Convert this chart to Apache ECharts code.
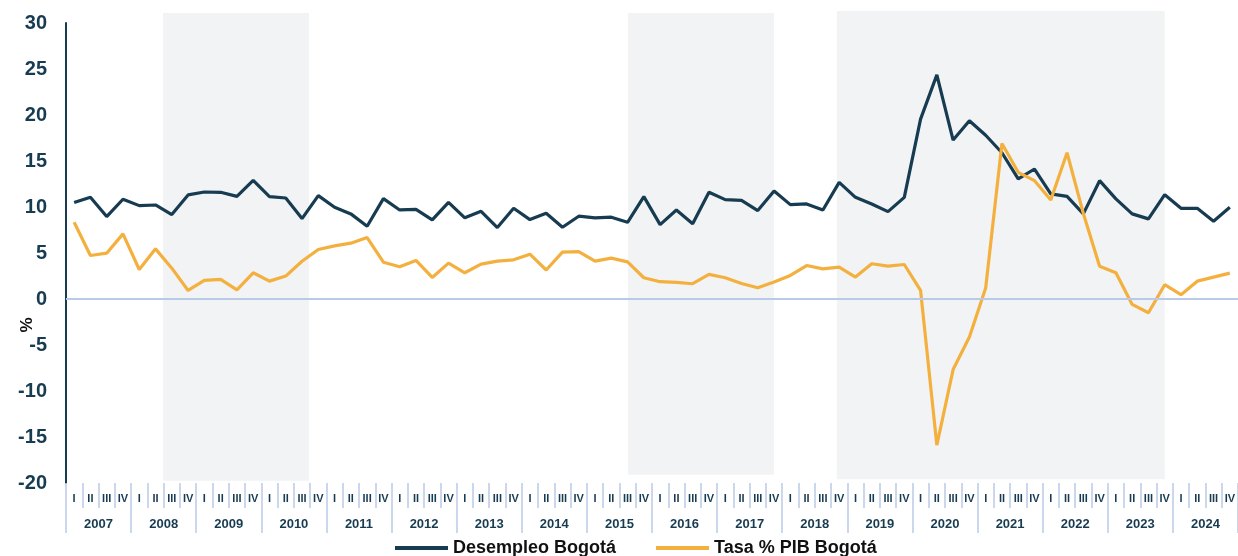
<!DOCTYPE html>
<html>
<head>
<meta charset="utf-8">
<script src="https://cdn.jsdelivr.net/npm/echarts@6/dist/echarts.min.js"></script>
<style>
html,body{margin:0;padding:0;background:#fff;}
#chart{width:1238px;height:556px;}
</style>
</head>
<body>
<div id="chart"></div>
<script>
const years = ['2007','2008','2009','2010','2011','2012','2013','2014','2015','2016','2017','2018','2019','2020','2021','2022','2023','2024'];
const quarterNames = ['I','II','III','IV'];
const yTicks = [-20,-15,-10,-5,0,5,10,15,20,25,30];

const desempleo = [
  10.48, 11.05, 8.96, 10.84,
  10.15, 10.22, 9.18, 11.31,
  11.63, 11.6, 11.16, 12.9,
  11.13, 10.98, 8.74, 11.24,
  9.97, 9.25, 7.91, 10.91,
  9.68, 9.75, 8.6, 10.51,
  8.82, 9.53, 7.77, 9.86,
  8.63, 9.32, 7.8, 9.0,
  8.82, 8.89, 8.34, 11.13,
  8.09, 9.68, 8.17, 11.6,
  10.8, 10.73, 9.61, 11.74,
  10.26, 10.33, 9.68, 12.68,
  11.05, 10.33, 9.5, 11.05,
  19.55, 24.36, 17.28, 19.37,
  17.8, 15.9, 13.05, 14.13,
  11.42, 11.15, 9.25, 12.86,
  10.88, 9.25, 8.71, 11.34,
  9.86, 9.86, 8.45, 9.97
];

const pib = [
  8.34, 4.73, 4.98, 7.08,
  3.21, 5.45, 3.35, 0.93,
  2.02, 2.13, 1.0, 2.85,
  1.94, 2.49, 4.1, 5.38,
  5.78, 6.07, 6.68, 4.0,
  3.5, 4.19, 2.34, 3.9,
  2.85, 3.79, 4.11, 4.26,
  4.87, 3.15, 5.09, 5.16,
  4.11, 4.44, 4.04, 2.31,
  1.88, 1.8, 1.66, 2.67,
  2.31, 1.69, 1.22, 1.84,
  2.56, 3.64, 3.28, 3.46,
  2.38, 3.83, 3.57, 3.75,
  0.93, -15.88, -7.67, -4.13,
  1.2, 16.9, 13.77, 12.86,
  10.77, 15.9, 9.3, 3.57,
  2.85, -0.59, -1.49, 1.55,
  0.47, 1.94, 2.38, 2.81
];

// shaded periods: [start quarter index, end quarter index, top value, bottom value]
const shadeBands = [
  [5.96, 14.93, 31.1, -19.75],
  [34.52, 43.49, 31.1, -19.1],
  [47.36, 67.5, 31.3, -19.6]
];

const quarters = [];
years.forEach(y => quarterNames.forEach(q => quarters.push(q)));

const FONT = 'Liberation Sans, Arial, sans-serif';
const NAVY = '#173b50';
const ORANGE = '#f4b03e';
const TICK = '#b9cae8';

const chart = echarts.init(document.getElementById('chart'), null, {renderer:'canvas'});
chart.setOption({
  animation: false,
  textStyle: {fontFamily: FONT},
  grid: {left: 66, top: 23, right: -4, height: 460, containLabel: false},
  legend: {
    left: 390, top: 534,
    itemWidth: 53, itemHeight: 4, itemGap: 40,
    icon: 'rect',
    textStyle: {fontFamily: FONT, fontSize: 18, fontWeight: 'bold', color: '#111'},
    data: ['Desempleo Bogotá', 'Tasa % PIB Bogotá']
  },
  xAxis: [
    {
      type: 'category', data: quarters, boundaryGap: true, position: 'bottom',
      axisLine: {show: false, onZero: false},
      axisTick: {show: true, interval: 0, length: 25, lineStyle: {color: TICK, width: 1.5}},
      axisLabel: {interval: 0, margin: 10, fontSize: 11, fontWeight: 'bold', color: NAVY, fontFamily: FONT},
      splitLine: {show: false}
    },
    {
      type: 'category', data: years, boundaryGap: true, position: 'bottom',
      axisLine: {show: false, onZero: false},
      axisTick: {show: true, interval: 0, length: 50, lineStyle: {color: TICK, width: 1.5}},
      axisLabel: {interval: 0, margin: 35, fontSize: 13, fontWeight: 'bold', color: NAVY, fontFamily: FONT},
      splitLine: {show: false}
    },
    {type: 'value', min: 0, max: 72, show: false}
  ],
  yAxis: [
    {
      type: 'value', min: -20, max: 30, interval: 5,
      axisLine: {show: true, onZero: false, lineStyle: {color: NAVY, width: 2}},
      axisTick: {show: false},
      splitLine: {show: false},
      axisLabel: {margin: 19, fontSize: 20, fontWeight: 'bold', color: NAVY, fontFamily: FONT,
        formatter: v => yTicks.includes(v) ? String(v) : ''}
    },
    {type: 'value', min: -20, max: 30, show: false}
  ],
  graphic: [{
    type: 'text', x: 27, y: 325, rotation: Math.PI / 2,
    style: {text: '%', fontSize: 17, fontWeight: 'bold', fill: '#111', fontFamily: FONT,
      textAlign: 'center', textVerticalAlign: 'middle'}
  }],
  series: [
    {
      type: 'custom', xAxisIndex: 2, yAxisIndex: 1, clip: false, silent: true, z: 0,
      data: shadeBands,
      renderItem: function (params, api) {
        const p0 = api.coord([api.value(0), api.value(2)]);
        const p1 = api.coord([api.value(1), api.value(3)]);
        return {type: 'rect', shape: {x: p0[0], y: p0[1], width: p1[0] - p0[0], height: p1[1] - p0[1]},
          style: {fill: '#f2f3f5'}};
      }
    },
    {
      name: 'Desempleo Bogotá', type: 'line', data: desempleo,
      xAxisIndex: 0, yAxisIndex: 0, z: 3,
      symbol: 'none', lineStyle: {color: NAVY, width: 3.2}, itemStyle: {color: NAVY},
      markLine: {
        silent: true, symbol: ['none', 'none'], label: {show: false},
        lineStyle: {color: TICK, width: 2, type: 'solid'},
        data: [{yAxis: 0}]
      }
    },
    {
      name: 'Tasa % PIB Bogotá', type: 'line', data: pib,
      xAxisIndex: 0, yAxisIndex: 0, z: 4,
      symbol: 'none', lineStyle: {color: ORANGE, width: 3.2}, itemStyle: {color: ORANGE}
    }
  ]
});
</script>
</body>
</html>
